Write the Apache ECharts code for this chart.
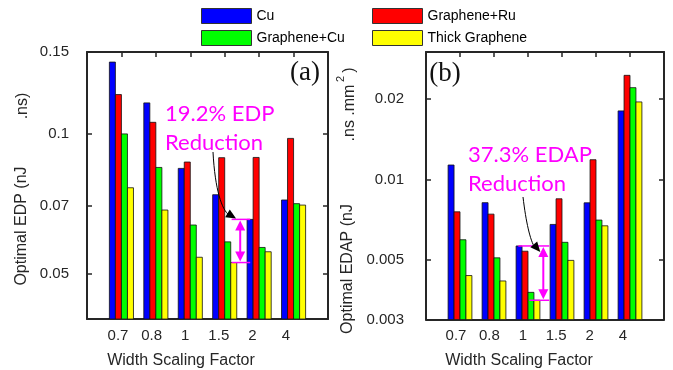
<!DOCTYPE html>
<html>
<head>
<meta charset="utf-8">
<script src="https://cdn.jsdelivr.net/npm/echarts@6/dist/echarts.min.js"></script>
<style>
  html, body { margin: 0; padding: 0; background: #fff; }
  #chart { width: 673px; height: 370px; }
</style>
</head>
<body>
<div id="chart"></div>
<script>
// Width scaling factors on the x axis
const categories = ['0.7', '0.8', '1', '1.5', '2', '4'];
const seriesNames = ['Cu', 'Graphene+Ru', 'Graphene+Cu', 'Thick Graphene'];

// (a) Optimal EDP (nJ.ns)
const edpCu    = [0.1427, 0.1166, 0.0843, 0.0740, 0.0655, 0.0721];
const edpRu    = [0.1215, 0.1059, 0.0870, 0.0889, 0.0890, 0.0978];
const edpGCu   = [0.1000, 0.0847, 0.0637, 0.0586, 0.0570, 0.0708];
const edpThick = [0.0766, 0.0686, 0.0543, 0.0529, 0.0558, 0.0703];

// (b) Optimal EDAP (nJ.ns.mm^2)
const edapCu    = [0.01134, 0.00820, 0.00565, 0.00680, 0.00819, 0.01807];
const edapRu    = [0.00758, 0.00743, 0.00540, 0.00848, 0.01187, 0.02454];
const edapGCu   = [0.00596, 0.00510, 0.00379, 0.00583, 0.00706, 0.02207];
const edapThick = [0.00438, 0.00418, 0.00354, 0.00499, 0.00672, 0.01952];

// Tick labels of the logarithmic value axes
const edpTicks  = [0.05, 0.07, 0.1, 0.15];
const edapTicks = [0.003, 0.005, 0.01, 0.02];

const colors = ['#0000ff', '#ff0000', '#00ff00', '#ffff00'];
const ink = '#262626';
const sans = '"Liberation Sans", Arial, sans-serif';

// The x range runs from 0 to 7 with the bar groups at slots 1..6
const slots = [''].concat(categories, ['']);

const chart = echarts.init(document.getElementById('chart'));

function frameX(grid, position) {
  return {
    type: 'category', gridIndex: grid, position: position, data: slots,
    boundaryGap: false,
    axisLine: { show: true, lineStyle: { color: ink, width: 2 } },
    axisTick: { show: true, inside: true, length: 5, lineStyle: { color: ink, width: 1.5 } },
    axisLabel: { show: false },
    splitLine: { show: false }
  };
}
function labelX(grid) {
  return {
    type: 'category', gridIndex: grid, position: 'bottom', data: slots,
    boundaryGap: false,
    axisLine: { show: false }, axisTick: { show: false },
    axisLabel: { show: true, interval: 0, margin: 9, fontSize: 15, fontFamily: sans, color: ink },
    splitLine: { show: false }
  };
}
function logY(grid, position, min, max, ticks, withLabels, margin) {
  return {
    type: 'log', logBase: 10, gridIndex: grid, position: position, min: min, max: max,
    axisLine: { show: true, lineStyle: { color: ink, width: 2 } },
    axisTick: { show: true, inside: true, length: 5, customValues: ticks, lineStyle: { color: ink, width: 1.5 } },
    axisLabel: {
      show: withLabels, customValues: ticks, margin: margin, fontSize: 15, fontFamily: sans, color: ink,
      padding: [0, 0, 6, 0],
      formatter: v => String(Number(Number(v).toPrecision(2)))
    },
    splitLine: { show: false }
  };
}
function hiddenY(grid) {
  return { type: 'value', gridIndex: grid, show: false };
}

// Grouped bars rising from the bottom of the log axis: four bars per group,
// together 70% of a slot wide, touching each other.
function groupedBar(name, values, idx, xi, yi) {
  return {
    type: 'custom', name: name, xAxisIndex: xi, yAxisIndex: yi, clip: true,
    itemStyle: { color: colors[idx], borderColor: '#111', borderWidth: 0.8 },
    encode: { x: 0, y: 1 },
    data: values.map((v, k) => [k + 1, v]),
    renderItem: function (params, api) {
      const top = api.coord([api.value(0), api.value(1)]);
      const band = api.size([1, 0])[0];
      const w = band * 0.7 / 4;
      const x0 = top[0] - 2 * w + idx * w;
      const base = params.coordSys.y + params.coordSys.height;
      return {
        type: 'rect',
        shape: { x: x0, y: top[1], width: w, height: base - top[1] },
        style: { fill: colors[idx], stroke: '#111', lineWidth: 0.8 }
      };
    }
  };
}
function panel(values, xi, yi) {
  return values.map((vals, i) => groupedBar(seriesNames[i], vals, i, xi, yi));
}

const legendBase = {
  orient: 'vertical', top: 8, itemWidth: 50, itemHeight: 15, itemGap: 6, padding: 0,
  selectedMode: false, icon: 'rect',
  itemStyle: { borderColor: '#333', borderWidth: 1 },
  textStyle: { fontSize: 14, fontFamily: sans, color: '#000' }
};

chart.setOption({
  animation: false,
  backgroundColor: '#fff',
  legend: [
    Object.assign({ left: 201, data: ['Cu', 'Graphene+Cu'] }, legendBase),
    Object.assign({ left: 372, data: ['Graphene+Ru', 'Thick Graphene'] }, legendBase)
  ],
  grid: [
    { left: 87, top: 52, width: 241, height: 267 },
    { left: 426, top: 52, width: 238, height: 267.5 },
    { left: 84.4, top: 52, width: 235.2, height: 267 },
    { left: 422.6, top: 52, width: 233.8, height: 267.5 }
  ],
  xAxis: [frameX(0, 'bottom'), frameX(0, 'top'), frameX(1, 'bottom'), frameX(1, 'top'), labelX(2), labelX(3)],
  yAxis: [
    logY(0, 'left', 0.04, 0.15, edpTicks, true, 18),
    logY(0, 'right', 0.04, 0.15, edpTicks, false, 8),
    logY(1, 'left', 0.003, 0.03, edapTicks, true, 22),
    logY(1, 'right', 0.003, 0.03, edapTicks, false, 8),
    hiddenY(2), hiddenY(3)
  ],
  series: panel([edpCu, edpRu, edpGCu, edpThick], 0, 0)
    .concat(panel([edapCu, edapRu, edapGCu, edapThick], 2, 2))
});

// Annotation overlays, placed from the plotted values
function px(xi, yi, slot, value) {
  return chart.convertToPixel({ xAxisIndex: xi, yAxisIndex: yi }, [slot, value]);
}
function label(text, x, y, opts) {
  return {
    type: 'text', x: x, y: y, z: 100, rotation: (opts && opts.rot) || 0, silent: true,
    style: Object.assign({
      text: text, fontSize: 16, fontFamily: sans, fill: ink, align: 'center', verticalAlign: 'middle'
    }, opts && opts.style)
  };
}
function arrowHead(tip, from, len, half, color) {
  const dx = tip[0] - from[0], dy = tip[1] - from[1];
  const d = Math.hypot(dx, dy), ux = dx / d, uy = dy / d;
  const bx = tip[0] - ux * len, by = tip[1] - uy * len;
  return {
    type: 'polygon', silent: true, z: 100,
    shape: { points: [tip, [bx - uy * half, by + ux * half], [bx + uy * half, by - ux * half]] },
    style: { fill: color }
  };
}
function bracket(xLeftTop, xLeftBot, xRight, xMid, yTop, yBot) {
  const mag = '#ff00ff';
  return [
    { type: 'line', silent: true, z: 100, shape: { x1: xLeftTop, y1: yTop, x2: xRight, y2: yTop }, style: { stroke: mag, lineWidth: 1.5 } },
    { type: 'line', silent: true, z: 100, shape: { x1: xLeftBot, y1: yBot, x2: xRight, y2: yBot }, style: { stroke: mag, lineWidth: 1.5 } },
    { type: 'line', silent: true, z: 100, shape: { x1: xMid, y1: yTop + 8, x2: xMid, y2: yBot - 8 }, style: { stroke: mag, lineWidth: 2 } },
    arrowHead([xMid, yTop + 1], [xMid, yTop + 10], 10, 5, mag),
    arrowHead([xMid, yBot - 1], [xMid, yBot - 10], 10, 5, mag)
  ];
}
function pointer(s, c1, c2, e, tip) {
  return [
    { type: 'bezierCurve', silent: true, z: 100,
      shape: { x1: s[0], y1: s[1], cpx1: c1[0], cpy1: c1[1], cpx2: c2[0], cpy2: c2[1], x2: e[0], y2: e[1] },
      style: { stroke: '#000', lineWidth: 1, fill: null } },
    arrowHead(tip, c2, 10, 4.5, '#000')
  ];
}

const bandA = 241 / 7, bandB = 238 / 7;
// (a): Cu at width factor 2 vs Thick Graphene at 1.5
const cA = px(0, 0, 4, edpThick[3])[0];
const topA = px(0, 0, 5, edpCu[4])[1];
const botA = px(0, 0, 4, edpThick[3])[1];
const midA = cA + 0.45 * bandA;
// (b): Cu vs Thick Graphene at width factor 1
const cB = px(2, 2, 3, edapThick[2])[0];
const topB = px(2, 2, 3, edapCu[2])[1];
const botB = px(2, 2, 3, edapThick[2])[1];
const midB = cB + 0.45 * bandB;

const magText = { fontSize: 22, fontFamily: 'Lato, "Open Sans", sans-serif', fill: '#ff00ff', align: 'left', lineHeight: 29 };

const graphics = [
  // axis titles
  label('Optimal EDP (nJ', 22, 226, { rot: Math.PI / 2 }),
  label('.ns)', 23, 106, { rot: Math.PI / 2 }),
  label('Optimal EDAP (nJ', 348, 269, { rot: Math.PI / 2 }),
  label('.ns .mm', 350, 113, { rot: Math.PI / 2 }),
  label('2', 341, 79, { rot: Math.PI / 2, style: { fontSize: 11 } }),
  label(')', 350, 70, { rot: Math.PI / 2 }),
  label('Width Scaling Factor', 181, 361),
  label('Width Scaling Factor', 519, 361),
  // panel tags
  label('(a)', 305, 73, { style: { fontSize: 27, fontFamily: '"Liberation Serif", "Times New Roman", serif', fill: '#111' } }),
  label('(b)', 445, 74, { style: { fontSize: 27, fontFamily: '"Liberation Serif", "Times New Roman", serif', fill: '#111' } }),
  // reduction notes
  label('19.2% EDP\nReduction', 165, 128, { style: magText }),
  label('37.3% EDAP\nReduction', 468, 169, { style: magText })
]
  .concat(bracket(cA + 0.2 * bandA, cA + 0.2 * bandA, cA + 0.74 * bandA, midA, topA, botA))
  .concat(bracket(cB - 0.285 * bandB, cB + 0.04 * bandB, cB + 0.625 * bandB, midB, topB, botB))
  .concat(pointer([213, 152], [215, 190], [222, 210], [229, 215], [cA + 0.33 * bandA, topA - 1]))
  .concat(pointer([523, 197], [526, 222], [530, 240], [535, 248], [midB - 3, topB + 6]));

chart.setOption({ graphic: graphics });
</script>
</body>
</html>
